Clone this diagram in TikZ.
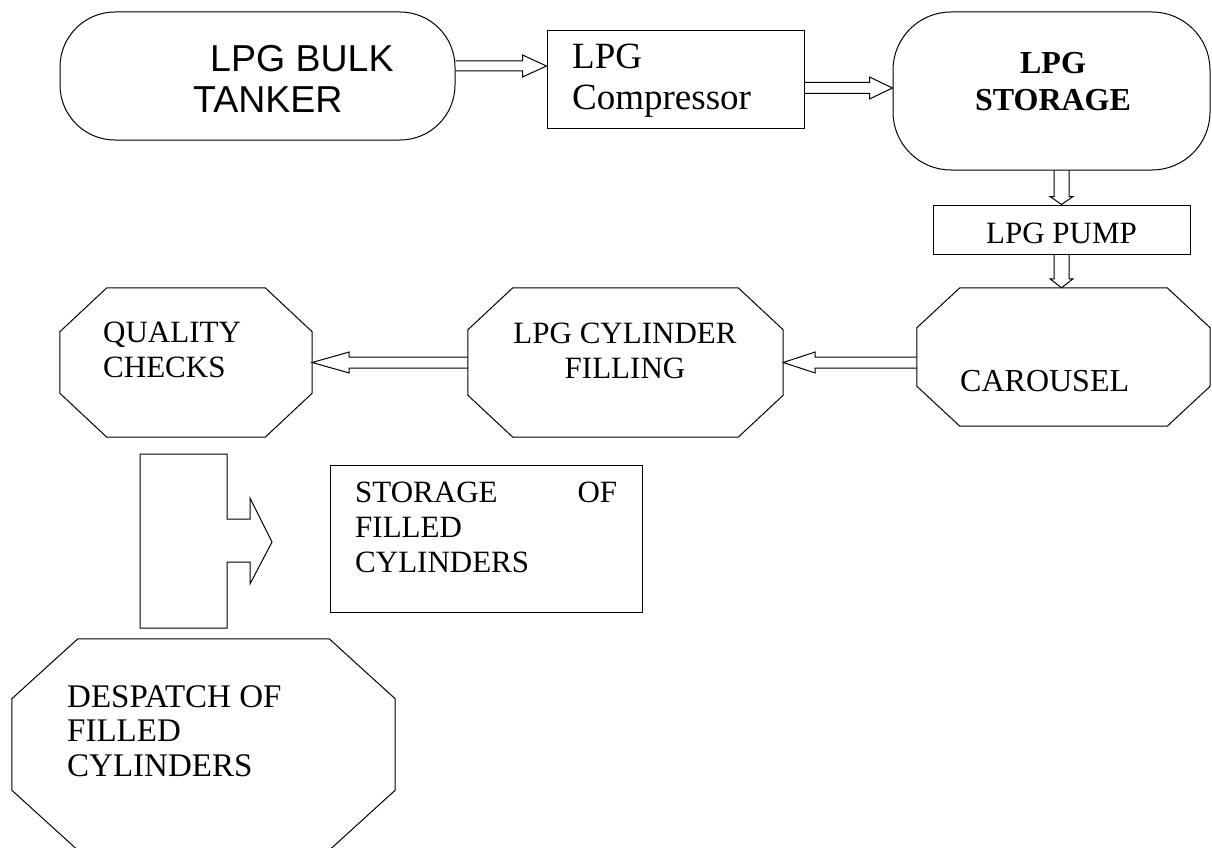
\documentclass[tikz,border=0pt]{standalone}
\usepackage{fontspec}
\setmainfont{Liberation Serif}
\newfontfamily\arialfont{Liberation Sans}
\usetikzlibrary{calc}

% hollow block arrow between two points: from, to, half shaft, half head, head length
\newcommand{\hollowarrow}[5]{%
  \draw[flowline] let \p1=(#1), \p2=(#2),
    \n1={atan2(\y2-\y1,\x2-\x1)}, \n2={veclen(\x2-\x1,\y2-\y1)} in
    [shift={(\p1)}, rotate=\n1]
    (0pt,#3pt) -- (\n2-#5pt,#3pt) -- (\n2-#5pt,#4pt) -- (\n2,0pt)
    -- (\n2-#5pt,-#4pt) -- (\n2-#5pt,-#3pt) -- (0pt,-#3pt);}

% octagon outline round a named node: node, corner cut x, corner cut y
\newcommand{\octagon}[3]{%
  \draw[flowline] ([xshift=#2pt]#1.north west) -- ([xshift=-#2pt]#1.north east)
    -- ([yshift=-#3pt]#1.north east) -- ([yshift=#3pt]#1.south east)
    -- ([xshift=-#2pt]#1.south east) -- ([xshift=#2pt]#1.south west)
    -- ([yshift=#3pt]#1.south west) -- ([yshift=-#3pt]#1.north west) -- cycle;}

\begin{document}
\begin{tikzpicture}[x=1pt,y=-1pt,
  flowline/.style={draw,line width=1pt,line join=miter},
  box/.style={draw,line width=1pt,inner sep=0pt},
  capsule/.style={box,rounded corners=55pt},
  octa/.style={inner sep=0pt},
  lbl/.style={inner sep=0pt,font=\fontsize{31}{35}\selectfont}]
\path[use as bounding box] (0,0) rectangle (1212,848);

% process steps
\node[capsule,minimum width=395pt,minimum height=128pt] (tanker) at (257.5,76) {};
\node[box,minimum width=257pt,minimum height=98pt] (compressor) at (675.5,80) {};
\node[capsule,rounded corners=58pt,minimum width=317pt,minimum height=158pt] (storage) at (1051.5,91) {};
\node[box,minimum width=257pt,minimum height=49pt] (pump) at (1061.5,229.5) {};
\node[octa,minimum width=293pt,minimum height=138pt] (carousel) at (1063.5,357) {};
\node[octa,minimum width=315pt,minimum height=149pt] (filling) at (625.5,362.5) {};
\node[octa,minimum width=252pt,minimum height=149pt] (quality) at (186,362.5) {};
\node[box,minimum width=312pt,minimum height=147pt] (stock) at (486,538.5) {};
\node[octa,minimum width=383pt,minimum height=211pt] (despatch) at (203.5,744.5) {};
\octagon{carousel}{43}{40}
\octagon{filling}{45}{42}
\octagon{quality}{47}{44}
\octagon{despatch}{66}{60}

% texts
\node[lbl,font=\arialfont\fontsize{37.5}{41}\selectfont,align=left,anchor=north west] (tankertxt) at (193,45) {\hspace*{17pt}LPG BULK\\TANKER};
\node[lbl,font=\fontsize{37}{41}\selectfont,align=left,anchor=north west] (compressortxt) at (572,44) {LPG\\Compressor};
\node[lbl,font=\bfseries\fontsize{32}{37}\selectfont,align=center,anchor=north] (storagetxt) at (1053,52) {LPG\\STORAGE};
\node[lbl,anchor=base] (pumptxt) at (1061.5,243) {LPG PUMP};
\node[lbl,font=\fontsize{32}{35}\selectfont,anchor=base west] (carouseltxt) at (960,391) {CAROUSEL};
\node[lbl,align=center,anchor=north] (fillingtxt) at (625,323) {LPG CYLINDER\\FILLING};
\node[lbl,align=left,anchor=north west] (qualitytxt) at (103,322) {QUALITY\\CHECKS};
\node[lbl,text width=262pt,align=left,anchor=north west] (stocktxt) at (355,482) {STORAGE\hfill OF\\FILLED\\CYLINDERS};
\node[lbl,font=\fontsize{33}{34.5}\selectfont,align=left,anchor=north west] (despatchtxt) at (67,685) {DESPATCH OF\\FILLED\\CYLINDERS};

% flow arrows
\hollowarrow{[yshift=10pt]tanker.east}{[yshift=14pt]compressor.west}{5}{11}{24}
\hollowarrow{[yshift=-8pt]compressor.east}{[yshift=3pt]storage.west}{5.5}{11}{23}
\hollowarrow{pump.north |- storage.south}{pump.north}{7.5}{11.5}{8}
\hollowarrow{pump.south}{pump.south |- carousel.north}{7.5}{11.5}{9}
\hollowarrow{carousel.west |- filling.east}{filling.east}{5.5}{10.5}{32}
\hollowarrow{filling.west}{quality.east}{5.5}{10.5}{37}

% block arrow towards the storage
\draw[flowline] (140,454) -- (227,454) -- (227,519) -- (250,519) -- (250,498)
  -- (272,542) -- (250,584) -- (250,562) -- (227,562) -- (227,628) -- (140,628) -- cycle;
\end{tikzpicture}
\end{document}
